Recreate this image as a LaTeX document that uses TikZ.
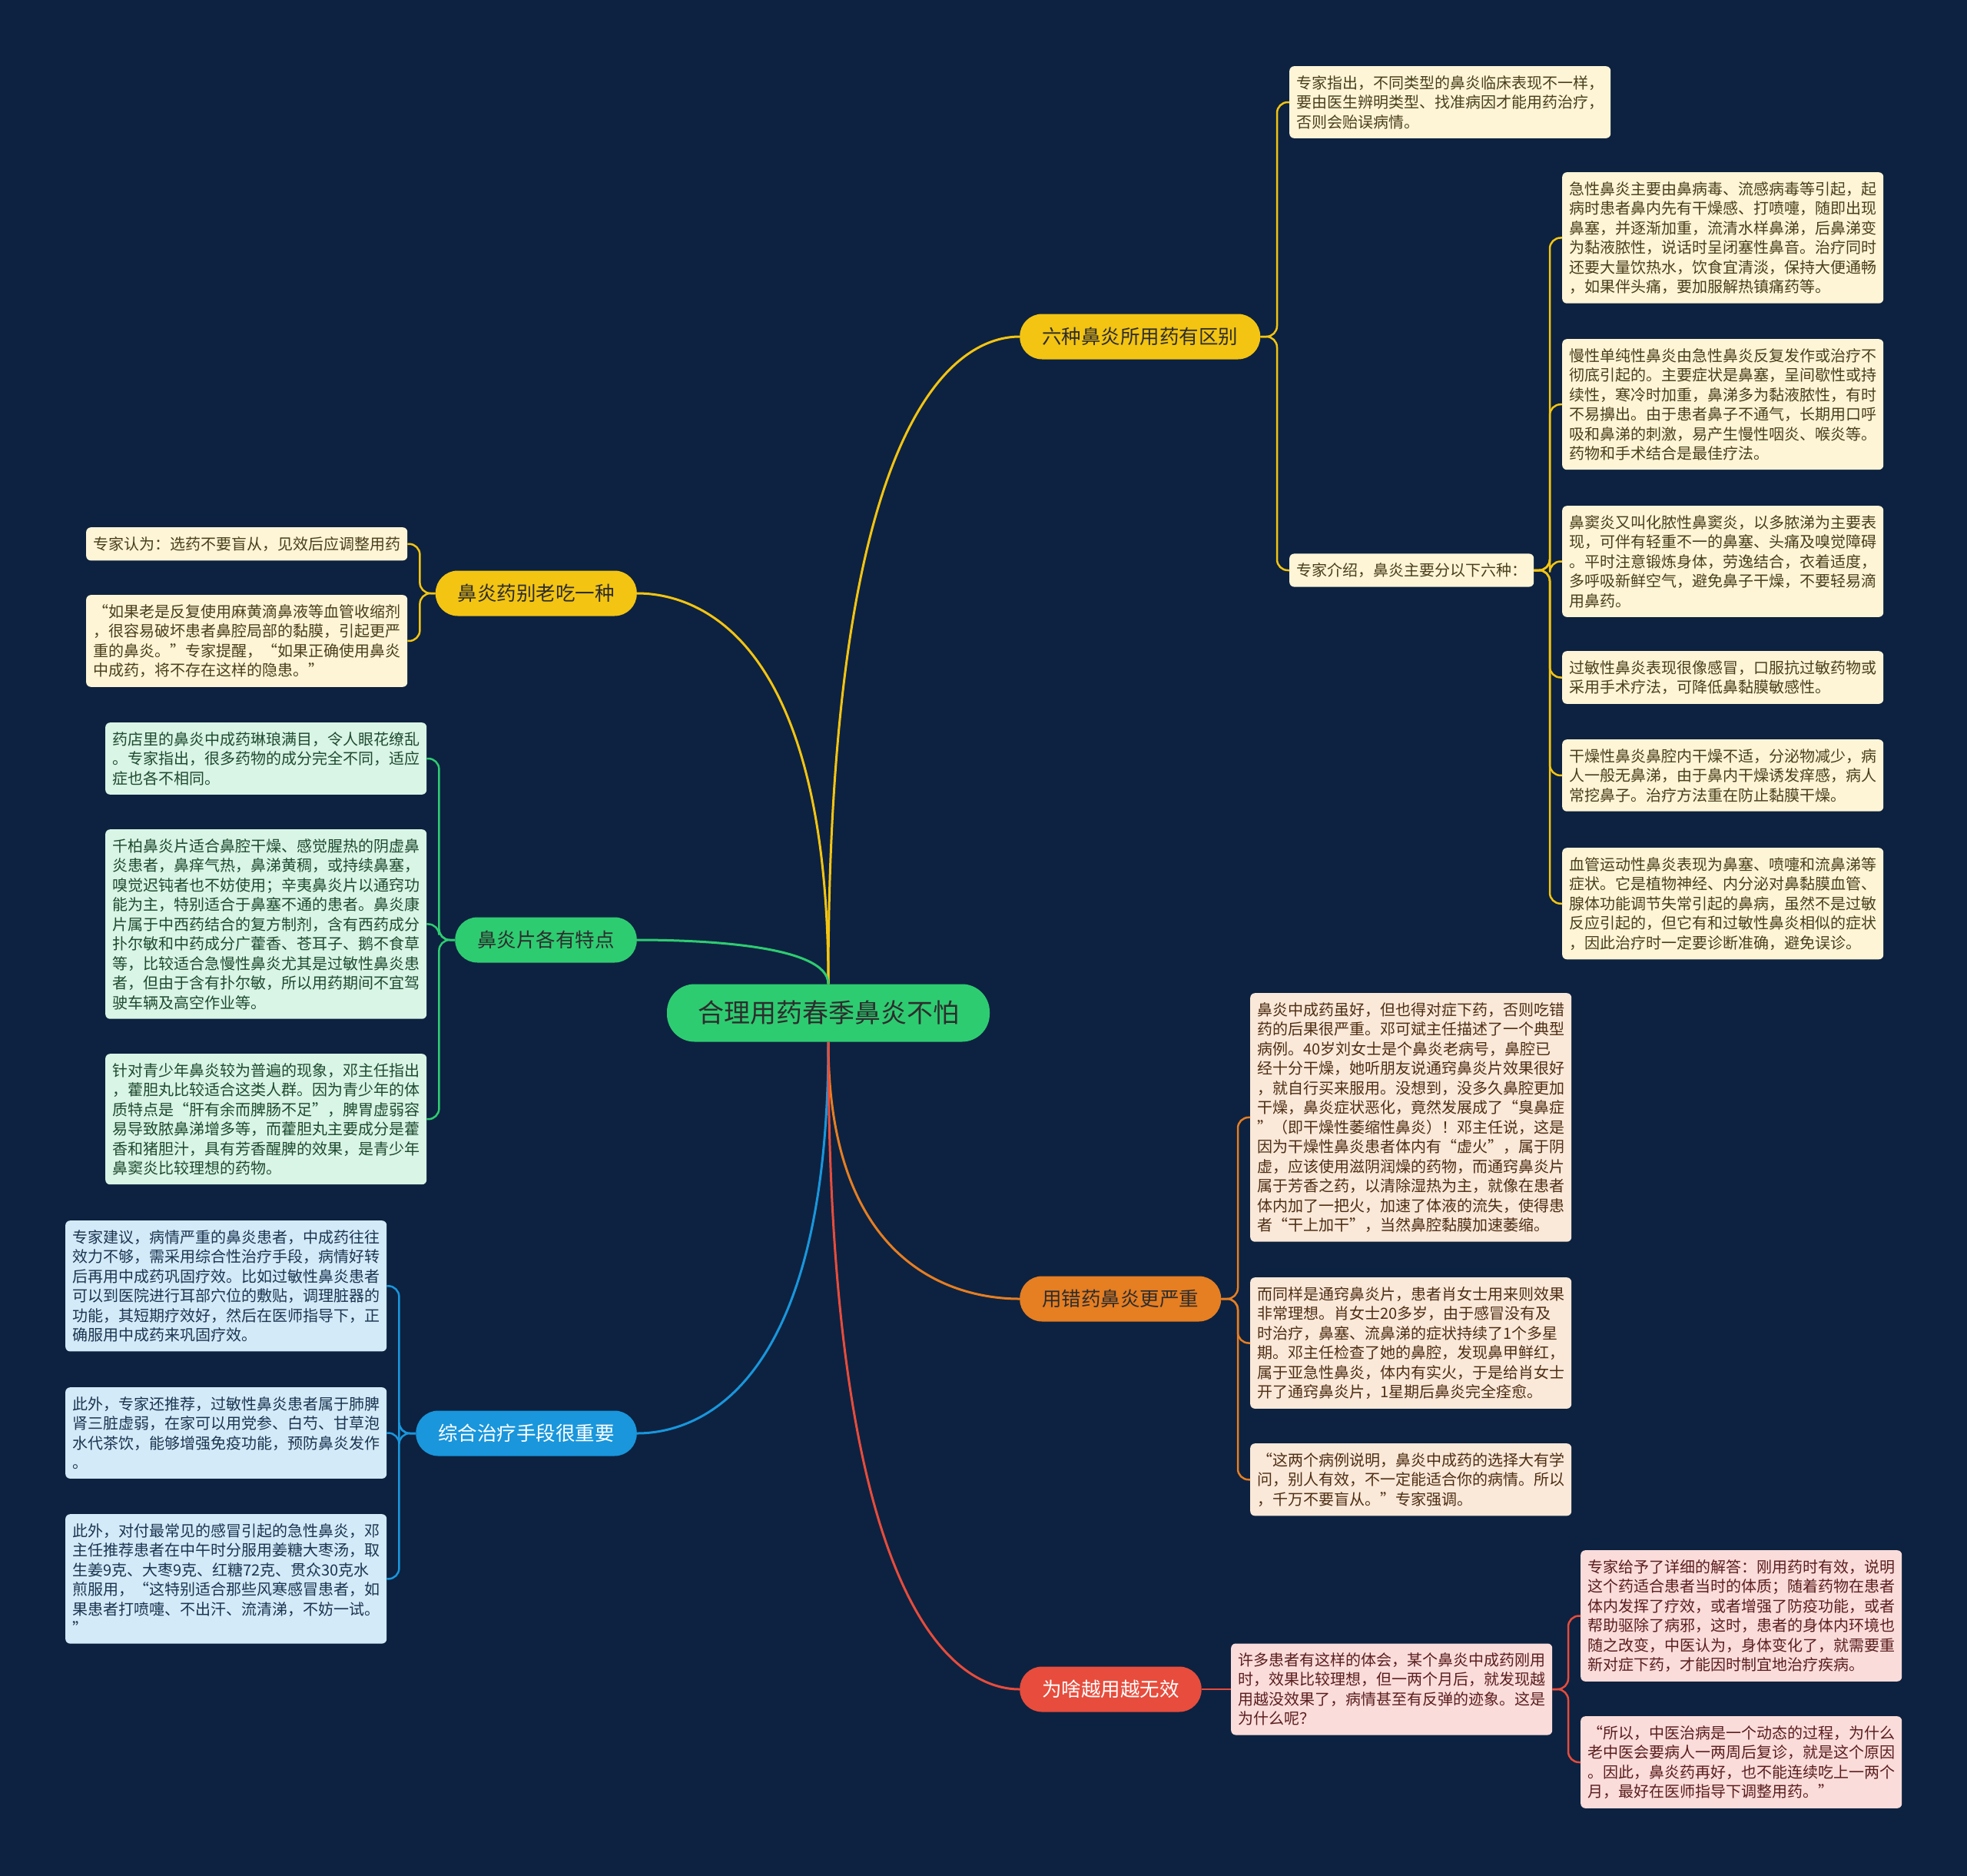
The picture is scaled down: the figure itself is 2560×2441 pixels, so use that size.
\documentclass[tikz,border=0pt]{standalone}
\usepackage{fontspec}
\setmainfont{Noto Sans CJK SC}
\definecolor{bgnavy}{RGB}{13,34,64}
\definecolor{ylwmain}{RGB}{243,196,18}
\definecolor{ylwleaf}{RGB}{253,245,214}
\definecolor{ylwtext}{RGB}{74,63,28}
\definecolor{grnmain}{RGB}{46,204,113}
\definecolor{grnleaf}{RGB}{217,245,229}
\definecolor{grntext}{RGB}{30,74,48}
\definecolor{orgmain}{RGB}{230,126,34}
\definecolor{orgleaf}{RGB}{250,232,216}
\definecolor{orgtext}{RGB}{77,46,20}
\definecolor{bluemain}{RGB}{25,150,220}
\definecolor{blueleaf}{RGB}{211,234,248}
\definecolor{bluetext}{RGB}{28,53,80}
\definecolor{redmain}{RGB}{231,76,60}
\definecolor{redleaf}{RGB}{250,220,218}
\definecolor{redtext}{RGB}{90,30,30}
\definecolor{darkink}{RGB}{45,45,45}

\begin{document}
\begin{tikzpicture}[x=1pt,y=-1pt,
  root/.style={fill=grnmain,text=darkink,rounded corners=36pt,minimum height=75pt,
    inner xsep=40pt,font=\fontsize{34}{34}\selectfont},
  branch/.style={rounded corners=29pt,minimum height=59pt,inner xsep=29pt,
    font=\fontsize{25.5}{25.5}\selectfont},
  leaf/.style={rounded corners=6pt,inner xsep=9pt,inner ysep=12pt,text width=400pt,
    align=left,anchor=north west,font=\fontsize{20}{25.5}\selectfont},
  tag/.style={rounded corners=6pt,inner xsep=9pt,inner ysep=12pt,
    font=\fontsize{20}{25.5}\selectfont},
  ylw/.style={fill=ylwleaf,text=ylwtext},
  grn/.style={fill=grnleaf,text=grntext},
  org/.style={fill=orgleaf,text=orgtext},
  blu/.style={fill=blueleaf,text=bluetext},
  rd/.style={fill=redleaf,text=redtext},
  trunk/.style={line width=3pt},
  twig/.style={line width=2.5pt,rounded corners=14pt}]
  \def\gap{16pt}
  \fill[bgnavy] (0,0) rectangle (2560,2441);

  \node[root] (root) at (1078,1318) {合理用药春季鼻炎不怕};

  \node[branch,fill=ylwmain,text=darkink,anchor=west] (six) at (1327,438) {六种鼻炎所用药有区别};
  \node[branch,fill=ylwmain,text=darkink,anchor=east] (onekind) at (829,772) {鼻炎药别老吃一种};
  \node[branch,fill=grnmain,text=darkink,anchor=east] (tablets) at (829,1223) {鼻炎片各有特点};
  \node[branch,fill=orgmain,text=darkink,anchor=west] (wrong) at (1327,1690) {用错药鼻炎更严重};
  \node[branch,fill=bluemain,text=white,anchor=east] (combo) at (829,1865) {综合治疗手段很重要};
  \node[branch,fill=redmain,text=white,anchor=west] (fade) at (1327,2198) {为啥越用越无效};

  \draw[trunk,ylwmain] (root.north) .. controls +(0,-758) and +(-75,0) .. (six.west);
  \draw[trunk,ylwmain] (root.north) .. controls +(0,-457) and +(75,0) .. (onekind.east);
  \draw[trunk,grnmain] (root.north) .. controls +(0,-52) and +(75,0) .. (tablets.east);
  \draw[trunk,orgmain] (root.south) .. controls +(0,300) and +(-75,0) .. (wrong.west);
  \draw[trunk,bluemain] (root.south) .. controls +(0,457) and +(75,0) .. (combo.east);
  \draw[trunk,redmain] (root.south) .. controls +(0,757) and +(-75,0) .. (fade.west);

  % six kinds
  \node[leaf,ylw] (expert) at (1678,86) {专家指出，不同类型的鼻炎临床表现不一样，\\要由医生辨明类型、找准病因才能用药治疗，\\否则会贻误病情。};
  \node[tag,ylw,anchor=west] (kinds) at (1678,742) {专家介绍，鼻炎主要分以下六种：};
  \node[leaf,ylw] (acute) at (2033,224) {急性鼻炎主要由鼻病毒、流感病毒等引起，起\\病时患者鼻内先有干燥感、打喷嚏，随即出现\\鼻塞，并逐渐加重，流清水样鼻涕，后鼻涕变\\为黏液脓性，说话时呈闭塞性鼻音。治疗同时\\还要大量饮热水，饮食宜清淡，保持大便通畅\\，如果伴头痛，要加服解热镇痛药等。};
  \node[leaf,ylw] (chronic) at (2033,441) {慢性单纯性鼻炎由急性鼻炎反复发作或治疗不\\彻底引起的。主要症状是鼻塞，呈间歇性或持\\续性，寒冷时加重，鼻涕多为黏液脓性，有时\\不易擤出。由于患者鼻子不通气，长期用口呼\\吸和鼻涕的刺激，易产生慢性咽炎、喉炎等。\\药物和手术结合是最佳疗法。};
  \node[leaf,ylw] (sinus) at (2033,658) {鼻窦炎又叫化脓性鼻窦炎，以多脓涕为主要表\\现，可伴有轻重不一的鼻塞、头痛及嗅觉障碍\\。平时注意锻炼身体，劳逸结合，衣着适度，\\多呼吸新鲜空气，避免鼻子干燥，不要轻易滴\\用鼻药。};
  \node[leaf,ylw] (allergy) at (2033,847) {过敏性鼻炎表现很像感冒，口服抗过敏药物或\\采用手术疗法，可降低鼻黏膜敏感性。};
  \node[leaf,ylw] (dry) at (2033,962) {干燥性鼻炎鼻腔内干燥不适，分泌物减少，病\\人一般无鼻涕，由于鼻内干燥诱发痒感，病人\\常挖鼻子。治疗方法重在防止黏膜干燥。};
  \node[leaf,ylw] (vaso) at (2033,1103) {血管运动性鼻炎表现为鼻塞、喷嚏和流鼻涕等\\症状。它是植物神经、内分泌对鼻黏膜血管、\\腺体功能调节失常引起的鼻病，虽然不是过敏\\反应引起的，但它有和过敏性鼻炎相似的症状\\，因此治疗时一定要诊断准确，避免误诊。};
  \draw[twig,ylwmain] (six.east) -| ([xshift=-\gap]expert.west) -- (expert.west);
  \draw[twig,ylwmain] (six.east) -| ([xshift=-\gap]kinds.west) -- (kinds.west);
  \foreach \k in {acute,chronic,sinus,allergy,dry,vaso}
    \draw[twig,ylwmain] (kinds.east) -| ([xshift=-\gap]\k.west) -- (\k.west);

  % one kind only
  \node[leaf,ylw] (blind) at (112,686) {专家认为：选药不要盲从，见效后应调整用药};
  \node[leaf,ylw] (ephed) at (112,774) {“如果老是反复使用麻黄滴鼻液等血管收缩剂\\，很容易破坏患者鼻腔局部的黏膜，引起更严\\重的鼻炎。”专家提醒，“如果正确使用鼻炎\\中成药，将不存在这样的隐患。”};
  \foreach \k in {blind,ephed}
    \draw[twig,ylwmain] (onekind.west) -| ([xshift=\gap]\k.east) -- (\k.east);

  % tablets
  \node[leaf,grn] (shop) at (137,940) {药店里的鼻炎中成药琳琅满目，令人眼花缭乱\\。专家指出，很多药物的成分完全不同，适应\\症也各不相同。};
  \node[leaf,grn] (qianbai) at (137,1079) {千柏鼻炎片适合鼻腔干燥、感觉腥热的阴虚鼻\\炎患者，鼻痒气热，鼻涕黄稠，或持续鼻塞，\\嗅觉迟钝者也不妨使用；辛夷鼻炎片以通窍功\\能为主，特别适合于鼻塞不通的患者。鼻炎康\\片属于中西药结合的复方制剂，含有西药成分\\扑尔敏和中药成分广藿香、苍耳子、鹅不食草\\等，比较适合急慢性鼻炎尤其是过敏性鼻炎患\\者，但由于含有扑尔敏，所以用药期间不宜驾\\驶车辆及高空作业等。};
  \node[leaf,grn] (youth) at (137,1371) {针对青少年鼻炎较为普遍的现象，邓主任指出\\，藿胆丸比较适合这类人群。因为青少年的体\\质特点是“肝有余而脾肠不足”，脾胃虚弱容\\易导致脓鼻涕增多等，而藿胆丸主要成分是藿\\香和猪胆汁，具有芳香醒脾的效果，是青少年\\鼻窦炎比较理想的药物。};
  \foreach \k in {shop,qianbai,youth}
    \draw[twig,grnmain] (tablets.west) -| ([xshift=\gap]\k.east) -- (\k.east);

  % combined treatment
  \node[leaf,blu] (severe) at (85,1588) {专家建议，病情严重的鼻炎患者，中成药往往\\效力不够，需采用综合性治疗手段，病情好转\\后再用中成药巩固疗效。比如过敏性鼻炎患者\\可以到医院进行耳部穴位的敷贴，调理脏器的\\功能，其短期疗效好，然后在医师指导下，正\\确服用中成药来巩固疗效。};
  \node[leaf,blu] (herbs) at (85,1805) {此外，专家还推荐，过敏性鼻炎患者属于肺脾\\肾三脏虚弱，在家可以用党参、白芍、甘草泡\\水代茶饮，能够增强免疫功能，预防鼻炎发作\\。};
  \node[leaf,blu] (ginger) at (85,1970) {此外，对付最常见的感冒引起的急性鼻炎，邓\\主任推荐患者在中午时分服用姜糖大枣汤，取\\生姜9克、大枣9克、红糖72克、贯众30克水\\煎服用，“这特别适合那些风寒感冒患者，如\\果患者打喷嚏、不出汗、流清涕，不妨一试。\\”};
  \foreach \k in {severe,herbs,ginger}
    \draw[twig,bluemain] (combo.west) -| ([xshift=\gap]\k.east) -- (\k.east);

  % wrong medicine
  \node[leaf,org] (liu) at (1627,1292) {鼻炎中成药虽好，但也得对症下药，否则吃错\\药的后果很严重。邓可斌主任描述了一个典型\\病例。40岁刘女士是个鼻炎老病号，鼻腔已\\经十分干燥，她听朋友说通窍鼻炎片效果很好\\，就自行买来服用。没想到，没多久鼻腔更加\\干燥，鼻炎症状恶化，竟然发展成了“臭鼻症\\”（即干燥性萎缩性鼻炎）！邓主任说，这是\\因为干燥性鼻炎患者体内有“虚火”，属于阴\\虚，应该使用滋阴润燥的药物，而通窍鼻炎片\\属于芳香之药，以清除湿热为主，就像在患者\\体内加了一把火，加速了体液的流失，使得患\\者“干上加干”，当然鼻腔黏膜加速萎缩。};
  \node[leaf,org] (xiao) at (1627,1662) {而同样是通窍鼻炎片，患者肖女士用来则效果\\非常理想。肖女士20多岁，由于感冒没有及\\时治疗，鼻塞、流鼻涕的症状持续了1个多星\\期。邓主任检查了她的鼻腔，发现鼻甲鲜红，\\属于亚急性鼻炎，体内有实火，于是给肖女士\\开了通窍鼻炎片，1星期后鼻炎完全痊愈。};
  \node[leaf,org] (cases) at (1627,1878) {“这两个病例说明，鼻炎中成药的选择大有学\\问，别人有效，不一定能适合你的病情。所以\\，千万不要盲从。”专家强调。};
  \foreach \k in {liu,xiao,cases}
    \draw[twig,orgmain] (wrong.east) -| ([xshift=-\gap]\k.west) -- (\k.west);

  % less and less effective
  \node[leaf,rd,anchor=west] (feel) at (1602,2198) {许多患者有这样的体会，某个鼻炎中成药刚用\\时，效果比较理想，但一两个月后，就发现越\\用越没效果了，病情甚至有反弹的迹象。这是\\为什么呢？};
  \node[leaf,rd] (answer) at (2057,2017) {专家给予了详细的解答：刚用药时有效，说明\\这个药适合患者当时的体质；随着药物在患者\\体内发挥了疗效，或者增强了防疫功能，或者\\帮助驱除了病邪，这时，患者的身体内环境也\\随之改变，中医认为，身体变化了，就需要重\\新对症下药，才能因时制宜地治疗疾病。};
  \node[leaf,rd] (dynamic) at (2057,2233) {“所以，中医治病是一个动态的过程，为什么\\老中医会要病人一两周后复诊，就是这个原因\\。因此，鼻炎药再好，也不能连续吃上一两个\\月，最好在医师指导下调整用药。”};
  \draw[twig,redmain] (fade.east) -- (feel.west);
  \foreach \k in {answer,dynamic}
    \draw[twig,redmain] (feel.east) -| ([xshift=-\gap]\k.west) -- (\k.west);
\end{tikzpicture}
\end{document}
